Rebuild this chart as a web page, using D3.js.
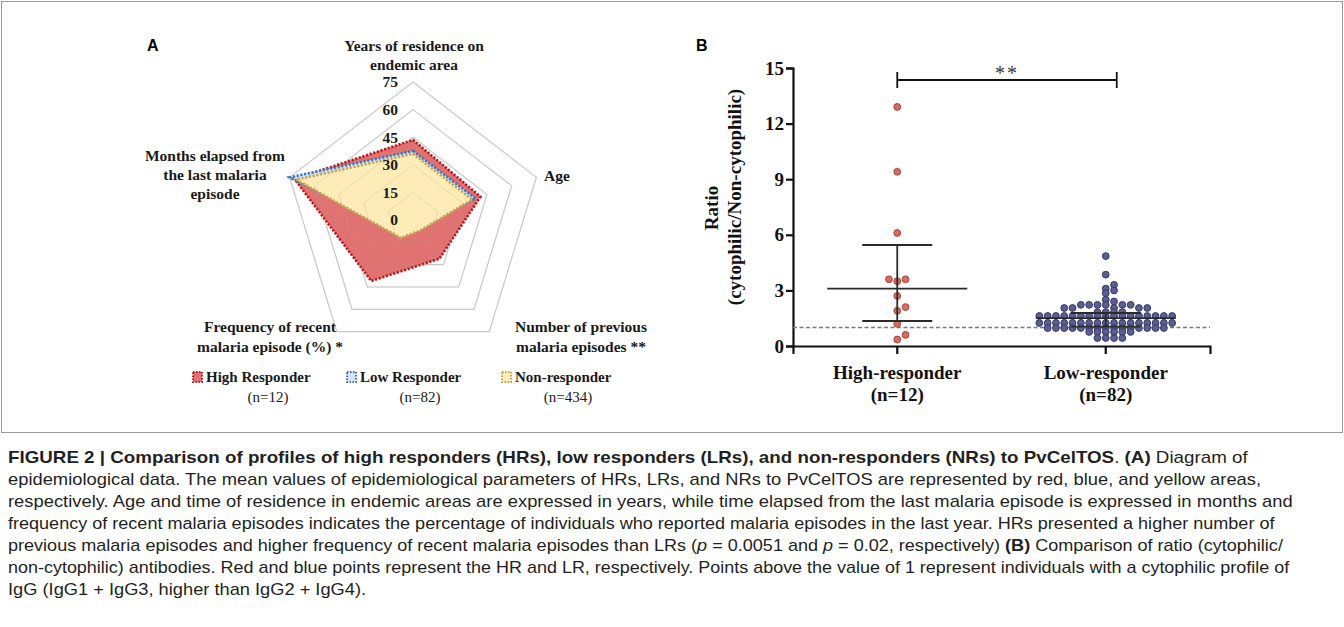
<!DOCTYPE html>
<html><head><meta charset="utf-8">
<script src="https://cdn.jsdelivr.net/npm/d3@7"></script>
<style>body{margin:0;background:#fff}svg{display:block}</style>
</head><body>
<svg id="chart" width="1344" height="627"></svg>
<script>
// ---------------- Data ----------------
const radarAxisLines = [
  ["Years of residence on", "endemic area"],
  ["Age"],
  ["Number of previous", "malaria episodes **"],
  ["Frequency of recent", "malaria episode (%) *"],
  ["Months elapsed from", "the last malaria", "episode"]
];
const radarTicks = [0, 15, 30, 45, 60, 75];
const radarSeries = ["High Responder", "Low Responder", "Non-responder"];
const radarN = ["(n=12)", "(n=82)", "(n=434)"];
// order: years, age, previous episodes, frequency, months elapsed
const highResponderProfile = [43.5, 41, 26, 41, 72];
const lowResponderProfile  = [37.5, 38, 5, 9, 75];
const nonResponderProfile  = [36, 36, 7, 12, 71];

const groups = ["High-responder", "Low-responder"];
const groupN = ["(n=12)", "(n=82)"];
const ratioTicks = [0, 3, 6, 9, 12, 15];
const hrRatios = [12.9, 9.4, 6.1, 3.5, 3.6, 3.6, 2.7, 1.9, 2.1, 1.2, 0.35, 0.6];
const lrRatios = [4.85, 3.85, 3.1, 3.3, 3.0, 2.85, 2.5, 2.4,
  2.22, 2.22, 2.22, 2.22, 2.22, 2.22,
  2.05, 2.05, 2.05, 2.05, 2.05,
  1.83, 1.83, 1.83, 1.83,
  1.62, 1.62, 1.62, 1.62, 1.62, 1.62, 1.62, 1.62, 1.62, 1.62, 1.62, 1.62, 1.62, 1.62, 1.62, 1.62, 1.62,
  1.24, 1.24, 1.24, 1.24, 1.24, 1.24, 1.24, 1.24, 1.24, 1.24, 1.24, 1.24, 1.24, 1.24, 1.24, 1.24, 1.24,
  0.97, 0.97, 0.97, 0.97, 0.97, 0.97, 0.97, 0.97, 0.97, 0.97, 0.97, 0.97, 0.97, 0.97, 0.97,
  0.76, 0.76, 0.76, 0.76, 0.76, 0.76,
  0.43, 0.43, 0.43, 0.43];
const hrSummary = [1.35, 3.1, 5.45];   // lower bar, median, upper bar
const lrSummary = [1.05, 1.5, 1.78];
const threshold = 1;
const significance = "**";

const captionLines = [
  [["FIGURE 2 | Comparison of profiles of high responders (HRs), low responders (LRs), and non-responders (NRs) to PvCelTOS", "b"], [". ", ""], ["(A)", "b"], [" Diagram of", ""]],
  [["epidemiological data. The mean values of epidemiological parameters of HRs, LRs, and NRs to PvCelTOS are represented by red, blue, and yellow areas,", ""]],
  [["respectively. Age and time of residence in endemic areas are expressed in years, while time elapsed from the last malaria episode is expressed in months and", ""]],
  [["frequency of recent malaria episodes indicates the percentage of individuals who reported malaria episodes in the last year. HRs presented a higher number of", ""]],
  [["previous malaria episodes and higher frequency of recent malaria episodes than LRs (", ""], ["p", "i"], [" = 0.0051 and ", ""], ["p", "i"], [" = 0.02, respectively) ", ""], ["(B)", "b"], [" Comparison of ratio (cytophilic/", ""]],
  [["non-cytophilic) antibodies. Red and blue points represent the HR and LR, respectively. Points above the value of 1 represent individuals with a cytophilic profile of", ""]],
  [["IgG (IgG1 + IgG3, higher than IgG2 + IgG4).", ""]]
];

// ---------------- Drawing ----------------
const svg = d3.select("#chart");
const serif = "'Liberation Serif','Times New Roman',serif";
const sans = "'Liberation Sans',Arial,sans-serif";

svg.append("rect").attr("x", 1.5).attr("y", 1.5).attr("width", 1341).attr("height", 431)
  .attr("fill", "none").attr("stroke", "#9a9a9a").attr("stroke-width", 1);

svg.append("text").attr("x", 147).attr("y", 51).text("A")
  .attr("font-family", sans).attr("font-weight", "bold").attr("font-size", 16);
svg.append("text").attr("x", 696).attr("y", 51).text("B")
  .attr("font-family", sans).attr("font-weight", "bold").attr("font-size", 16);

// ---- Radar (panel A) ----
const cx = 413, cy = 220, sx = 0.94;
const r = d3.scaleLinear().domain([0, 75]).range([0, 138]);
const nAx = radarAxisLines.length;
const ang = i => i * 2 * Math.PI / nAx;
const pt = (i, v) => [cx + Math.sin(ang(i)) * r(v) * sx, cy - Math.cos(ang(i)) * r(v)];
const poly = vals => vals.map((v, i) => pt(i, v).join(",")).join(" ");

const ringG = svg.append("g");
radarTicks.filter(t => t > 0).forEach(t => {
  ringG.append("polygon").attr("points", poly(d3.range(nAx).map(() => t)))
    .attr("fill", "none").attr("stroke", "#d4d4d4").attr("stroke-width", 1.2);
});

const seriesStyle = [
  {fill: "#e07272", stroke: "#c0141c"},
  {fill: "#d5e3f3", stroke: "#3b74c0"},
  {fill: "#fdebb8", stroke: "#c2a64e"}
];
const profiles = [highResponderProfile, lowResponderProfile, nonResponderProfile];
const serG = svg.append("g");
profiles.forEach((p, k) => {
  serG.append("polygon").attr("points", poly(p))
    .attr("fill", seriesStyle[k].fill).attr("stroke", seriesStyle[k].stroke)
    .attr("stroke-width", 2.6).attr("stroke-dasharray", "2.2,1.6");
});
// grid visible through fills
radarTicks.filter(t => t > 0).forEach(t => {
  svg.append("polygon").attr("points", poly(d3.range(nAx).map(() => t)))
    .attr("fill", "none").attr("stroke", "#b0a090").attr("stroke-opacity", 0.25).attr("stroke-width", 1);
});

radarTicks.forEach(t => {
  svg.append("text").attr("x", cx - 15).attr("y", cy - r(t)).attr("dy", "0.35em")
    .attr("text-anchor", "end").attr("font-family", serif).attr("font-weight", "bold")
    .attr("font-size", 15.5).attr("fill", "#1a1a1a").text(t);
});

const axisLabelPos = [[414, 46], [557, 176], [581, 327], [270, 327], [215, 156]];
const axisLineH = [19, 19, 20, 20, 19];
radarAxisLines.forEach((lines, i) => {
  const t = svg.append("text").attr("font-family", serif).attr("font-weight", "bold")
    .attr("font-size", 15.5).attr("text-anchor", "middle").attr("fill", "#1a1a1a");
  lines.forEach((l, j) => {
    t.append("tspan").attr("x", axisLabelPos[i][0]).attr("y", axisLabelPos[i][1] + j * axisLineH[i])
      .attr("dy", "0.35em").text(l);
  });
});

// legend
const legX = [193, 347, 502], legNX = [268, 420, 568];
radarSeries.forEach((s, k) => {
  svg.append("rect").attr("x", legX[k]).attr("y", 372).attr("width", 9).attr("height", 10)
    .attr("fill", seriesStyle[k].fill).attr("stroke", seriesStyle[k].stroke)
    .attr("stroke-width", 2).attr("stroke-dasharray", "1.5,1.5");
  svg.append("text").attr("x", legX[k] + 13).attr("y", 377).attr("dy", "0.35em")
    .attr("font-family", serif).attr("font-weight", "bold").attr("font-size", 15)
    .attr("fill", "#1a1a1a").text(s);
  svg.append("text").attr("x", legNX[k]).attr("y", 397).attr("dy", "0.35em")
    .attr("text-anchor", "middle").attr("font-family", serif).attr("font-size", 15)
    .attr("fill", "#1a1a1a").text(radarN[k]);
});

// ---- Scatter (panel B) ----
const y = d3.scaleLinear().domain([0, 15]).range([346, 68]);
const x = d3.scaleBand().domain(groups).range([793, 1210]).padding(0);
const xc = g => x(g) + x.bandwidth() / 2;

const yAx = svg.append("g").attr("transform", "translate(793,0)")
  .call(d3.axisLeft(y).tickValues(ratioTicks).tickSizeOuter(0).tickSize(7).tickPadding(2));
yAx.selectAll("path,line").attr("stroke", "#111").attr("stroke-width", 2.2);
yAx.selectAll("text").attr("font-family", serif).attr("font-weight", "bold").attr("font-size", 19).attr("fill", "#111");

const xAx = svg.append("g").attr("transform", "translate(0,346)")
  .call(d3.axisBottom(x).tickSizeOuter(0).tickSize(8).tickFormat(""));
xAx.selectAll("path,line").attr("stroke", "#111").attr("stroke-width", 2.2);
groups.forEach((g, i) => {
  svg.append("text").attr("x", xc(g)).attr("y", 372).attr("dy", "0.35em").attr("text-anchor", "middle")
    .attr("font-family", serif).attr("font-weight", "bold").attr("font-size", 19).attr("fill", "#111").text(g);
  svg.append("text").attr("x", xc(g)).attr("y", 394).attr("dy", "0.35em").attr("text-anchor", "middle")
    .attr("font-family", serif).attr("font-weight", "bold").attr("font-size", 19).attr("fill", "#111").text(groupN[i]);
});

svg.append("text").attr("transform", "translate(718,208) rotate(-90)").attr("text-anchor", "middle")
  .attr("font-family", serif).attr("font-weight", "bold").attr("font-size", 19).attr("fill", "#111").text("Ratio");
svg.append("text").attr("transform", "translate(741,197) rotate(-90)").attr("text-anchor", "middle")
  .attr("font-family", serif).attr("font-weight", "bold").attr("font-size", 19).attr("fill", "#111").text("(cytophilic/Non-cytophilic)");

svg.append("line").attr("x1", 793).attr("x2", 1210).attr("y1", y(threshold)).attr("y2", y(threshold))
  .attr("stroke", "#7a7a7a").attr("stroke-width", 1.6).attr("stroke-dasharray", "4,2.5");

function swarm(values, center, minDist, step) {
  const placed = [];
  return values.map(v => {
    const py = y(v);
    for (let k = 0; k < 400; k++) {
      const off = k === 0 ? 0 : (k % 2 === 1 ? 1 : -1) * Math.ceil(k / 2) * step;
      const px = center + off;
      if (placed.every(p => Math.hypot(p[0] - px, p[1] - py) >= minDist)) {
        placed.push([px, py]); return {v, x: px, y: py};
      }
    }
  });
}
const hrPts = swarm(hrRatios, xc(groups[0]), 7, 8.3);
const lrPts = swarm(lrRatios, xc(groups[1]), 3.8, 8.3);
svg.append("g").selectAll("circle").data(hrPts).join("circle")
  .attr("cx", d => d.x).attr("cy", d => d.y).attr("r", 3.4)
  .attr("fill", "#d66d63").attr("stroke", "#a8413a").attr("stroke-width", 1);
svg.append("g").selectAll("circle").data(lrPts).join("circle")
  .attr("cx", d => d.x).attr("cy", d => d.y).attr("r", 3.4)
  .attr("fill", "#5b5e8f").attr("stroke", "#363a6c").attr("stroke-width", 1);

[[groups[0], hrSummary], [groups[1], lrSummary]].forEach(([g, s]) => {
  const c = xc(g);
  const gg = svg.append("g").attr("stroke", "#2a2a2a").attr("stroke-width", 1.8);
  gg.append("line").attr("x1", c - 70).attr("x2", c + 70).attr("y1", y(s[1])).attr("y2", y(s[1]));
  gg.append("line").attr("x1", c).attr("x2", c).attr("y1", y(s[0])).attr("y2", y(s[2]));
  gg.append("line").attr("x1", c - 35).attr("x2", c + 35).attr("y1", y(s[0])).attr("y2", y(s[0]));
  gg.append("line").attr("x1", c - 35).attr("x2", c + 35).attr("y1", y(s[2])).attr("y2", y(s[2]));
});

// significance bracket
const b1 = xc(groups[0]), b2 = xc(groups[1]) + 11;
const br = svg.append("g").attr("stroke", "#111").attr("stroke-width", 1.8);
br.append("line").attr("x1", b1).attr("x2", b2).attr("y1", 80).attr("y2", 80);
br.append("line").attr("x1", b1).attr("x2", b1).attr("y1", 72).attr("y2", 88);
br.append("line").attr("x1", b2).attr("x2", b2).attr("y1", 72).attr("y2", 88);
svg.append("text").attr("x", (b1 + b2) / 2).attr("y", 80).attr("text-anchor", "middle")
  .attr("font-family", serif).attr("font-size", 20).attr("letter-spacing", 2).attr("fill", "#333").text(significance);

// ---- Caption ----
const capTargets = [1248, 1262, 1293, 1275, 1284, 1290, null];
let scales = [];
captionLines.forEach((segs, i) => {
  const t = svg.append("text").attr("x", 0).attr("y", 0)
    .attr("font-family", sans).attr("font-size", 16).attr("fill", "#231f20");
  segs.forEach(([s, st]) => {
    const ts = t.append("tspan").text(s);
    if (st === "b") ts.attr("font-weight", "bold");
    if (st === "i") ts.attr("font-style", "italic");
  });
  const w = t.node().getComputedTextLength();
  let sc = capTargets[i] ? (capTargets[i] - 8) / w : d3.mean(scales);
  if (capTargets[i]) scales.push(sc);
  t.attr("transform", `translate(8,${463 + i * 22}) scale(${sc},1)`);
});
</script>
</body></html>
